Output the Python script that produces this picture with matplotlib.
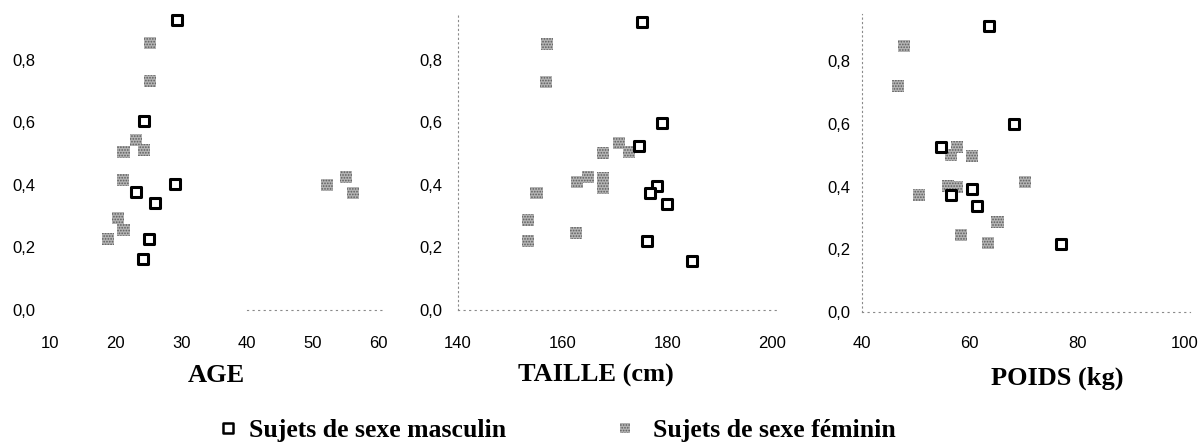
import numpy as np
import matplotlib
matplotlib.use("Agg")
import matplotlib.pyplot as plt

# AGE panel
age_m_x = [29.3, 24.4, 29.05, 23.1, 26.0, 25.1, 24.2]
age_m_y = [0.926, 0.605, 0.401, 0.378, 0.341, 0.226, 0.163]
age_f_x = [25.2, 25.2, 23.1, 21.2, 24.3, 21.1, 20.3, 21.2, 18.9, 52.2, 55.1, 56.2]
age_f_y = [0.854, 0.732, 0.543, 0.504, 0.511, 0.415, 0.293, 0.256, 0.226, 0.399, 0.426, 0.375]

# TAILLE panel
taille_m_x = [175.1, 179.0, 174.5, 178.0, 176.7, 179.9, 176.2, 184.8]
taille_m_y = [0.921, 0.598, 0.525, 0.397, 0.373, 0.339, 0.220, 0.157]
taille_f_x = [157.0, 156.8, 155.0, 153.4, 153.4, 162.5, 162.7, 164.9, 167.8, 167.8, 167.8, 170.8, 172.7]
taille_f_y = [0.850, 0.729, 0.373, 0.287, 0.221, 0.245, 0.408, 0.426, 0.500, 0.421, 0.391, 0.534, 0.506]

# POIDS panel
poids_m_x = [63.6, 68.3, 54.6, 60.4, 56.5, 61.3, 77.1]
poids_m_y = [0.914, 0.600, 0.528, 0.392, 0.373, 0.338, 0.217]
poids_f_x = [47.8, 46.7, 57.6, 56.5, 60.5, 50.6, 56.0, 57.6, 70.3, 65.2, 58.5, 63.4]
poids_f_y = [0.849, 0.721, 0.528, 0.501, 0.499, 0.373, 0.403, 0.400, 0.416, 0.288, 0.246, 0.219]

yticks = [0.0, 0.2, 0.4, 0.6, 0.8]
ytick_labels = ["0,0", "0,2", "0,4", "0,6", "0,8"]

W, H = 1201, 448
plt.rcParams["hatch.color"] = "#5c5c5c"
plt.rcParams["hatch.linewidth"] = 0.8
fig = plt.figure(figsize=(W / 100, H / 100), dpi=100)

grey = "#b4b4b4"

def px_axes(left, right, top, bottom):
    return fig.add_axes([left / W, 1 - bottom / H, (right - left) / W, (bottom - top) / H])

panels = [
    dict(box=(36.9, 384.6, 12.6, 310), xlim=(8, 61), xticks=[10, 20, 30, 40, 50, 60], ypad=1, xpad=18.5,
         m=(age_m_x, age_m_y), f=(age_f_x, age_f_y), left_spine=False, bbounds=(40, 61)),
    dict(box=(458, 777.2, 12.6, 310), xlim=(140, 201), xticks=[140, 160, 180, 200], ypad=11.5, xpad=18.5,
         m=(taille_m_x, taille_m_y), f=(taille_f_x, taille_f_y), left_spine=True, bbounds=None),
    dict(box=(862, 1190, 14.4, 312), xlim=(40, 101), xticks=[40, 60, 80, 100], ypad=8.6, xpad=17,
         m=(poids_m_x, poids_m_y), f=(poids_f_x, poids_f_y), left_spine=True, bbounds=None),
]

for p in panels:
    ax = px_axes(*p["box"])
    ax.set_xlim(*p["xlim"])
    ax.set_ylim(0, 0.95)
    ax.scatter(p["f"][0], p["f"][1], marker="s", s=75, c=grey, edgecolors="none",
               hatch="......", zorder=2)
    ax.scatter(p["m"][0], p["m"][1], marker="s", s=60, facecolors="white",
               edgecolors="black", linewidths=2.2, zorder=3)
    ax.set_xticks(p["xticks"])
    ax.set_xticklabels([str(t) for t in p["xticks"]])
    ax.set_yticks(yticks)
    ax.set_yticklabels(ytick_labels)
    ax.tick_params(axis="both", length=0, labelsize=12)
    ax.tick_params(axis="y", pad=p["ypad"])
    ax.tick_params(axis="x", pad=p["xpad"])
    for lab in ax.get_xticklabels() + ax.get_yticklabels():
        lab.set_family("Liberation Sans")
    for s in ["top", "right"]:
        ax.spines[s].set_visible(False)
    ax.spines["bottom"].set_linestyle((0, (1, 4)))
    ax.spines["bottom"].set_color("#8a8a8a")
    ax.spines["bottom"].set_linewidth(0.8)
    if p["bbounds"] is not None:
        ax.spines["bottom"].set_bounds(*p["bbounds"])
    if p["left_spine"]:
        ax.spines["left"].set_linestyle((0, (1, 3)))
        ax.spines["left"].set_color("#8a8a8a")
        ax.spines["left"].set_linewidth(0.8)
    else:
        ax.spines["left"].set_visible(False)
    ax.patch.set_visible(False)

title_font = dict(family="Liberation Serif", weight="bold", fontsize=19, ha="center", va="center")
fig.text(216.7 / W, 1 - 375 / H, "AGE", **title_font)
fig.text(596 / W, 1 - 375 / H, "TAILLE (cm)", **title_font)
fig.text(1057 / W, 1 - 378 / H, "POIDS (kg)", **title_font)

# legend
leg = fig.add_axes([0, 0, 1, 1])
leg.set_xlim(0, W)
leg.set_ylim(H, 0)
leg.axis("off")
leg.scatter([228], [428], marker="s", s=45, facecolors="white", edgecolors="black", linewidths=1.8)
leg.scatter([625], [428], marker="s", s=60, c=grey, edgecolors="none", hatch="......")
leg_font = dict(family="Liberation Serif", weight="bold", fontsize=18.5, va="center")
leg.text(249, 430, "Sujets de sexe masculin", **leg_font)
leg.text(653, 430, "Sujets de sexe féminin", **leg_font)

fig.savefig("out.png", dpi=100)
